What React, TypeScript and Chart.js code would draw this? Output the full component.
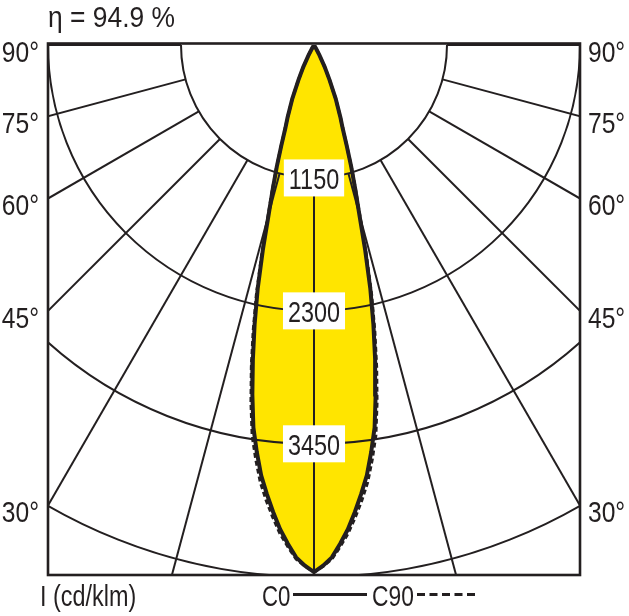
import React, { useEffect, useRef } from 'react';
import { Chart, registerables } from 'chart.js';

Chart.register(...registerables);

// ---- data ----
const curveAngles = [0, 1, 2, 3, 4, 5, 6, 7, 8, 9, 10, 11, 12, 13, 14, 15, 16, 17, 18, 19, 20, 22, 24, 26, 28, 30, 32];
const c0Intensity = [4560, 4505, 4435, 4320, 4200, 4055, 3905, 3750, 3555, 3350, 3070, 2770, 2470, 2165, 1830, 1510, 1290, 1100, 915, 760, 670, 500, 330, 210, 100, 35, 0];
const c90Intensity = [4560, 4510, 4450, 4345, 4235, 4100, 3960, 3810, 3620, 3420, 3140, 2840, 2530, 2215, 1870, 1540, 1310, 1110, 920, 765, 672, 500, 330, 210, 100, 35, 0];
const ringValues = [1150, 2300, 3450, 4600];
const ringLabels = ['1150', '2300', '3450'];
const spokeAngles = [0, 15, 30, 45, 60, 75, 90];
const sideAngles = [90, 75, 60, 45, 30];
const sideLabels = ['90°', '75°', '60°', '45°', '30°'];
const efficiencyText = 'η = 94.9 %';
const unitText = 'I (cd/klm)';
const seriesNames = ['C0', 'C90'];
const xHalfRange = 2300;
const yDepth = 4585;

const INK = '#231f20';
const YELLOW = '#ffe500';
const FONT = '30px "Liberation Sans", Arial, sans-serif';
const SX = 0.78;

function toPolarPoints(values: number[]) {
  const pts: { x: number; y: number }[] = [];
  for (let i = curveAngles.length - 1; i >= 0; i--) {
    const t = (curveAngles[i] * Math.PI) / 180;
    pts.push({ x: -values[i] * Math.sin(t), y: -values[i] * Math.cos(t) });
  }
  for (let i = 1; i < curveAngles.length; i++) {
    const t = (curveAngles[i] * Math.PI) / 180;
    pts.push({ x: values[i] * Math.sin(t), y: -values[i] * Math.cos(t) });
  }
  return pts;
}

function drawText(ctx: CanvasRenderingContext2D, text: string, x: number, y: number, align: CanvasTextAlign, sx = SX) {
  ctx.save();
  ctx.font = FONT;
  ctx.translate(x, y);
  ctx.scale(sx, 1);
  ctx.textAlign = align;
  ctx.textBaseline = 'alphabetic';
  ctx.fillStyle = INK;
  ctx.fillText(text, 0, 0);
  ctx.restore();
}

const polarPlugin = {
  id: 'polarDecor',
  afterDatasetDraw(chart: any, args: any) {
    if (args.index !== 2) return;
    const { ctx, chartArea: a, scales } = chart;
    const px = (v: number) => scales.x.getPixelForValue(v);
    const py = (v: number) => scales.y.getPixelForValue(v);
    const cx = px(0);
    const cy = py(0);
    const unit = px(1) - px(0);
    ctx.save();
    ctx.beginPath();
    ctx.rect(a.left, a.top - 2, a.right - a.left, a.bottom - a.top + 2);
    ctx.clip();
    ctx.strokeStyle = INK;
    ctx.lineWidth = 2;
    ringValues.forEach((v) => {
      ctx.beginPath();
      ctx.arc(cx, cy, v * unit, 0, Math.PI);
      ctx.stroke();
    });
    const r0 = ringValues[0];
    const r1 = ringValues[ringValues.length - 1] * 2;
    spokeAngles.forEach((deg) => {
      const t = (deg * Math.PI) / 180;
      [-1, 1].forEach((s) => {
        if (deg === 0 && s === 1) return;
        ctx.beginPath();
        ctx.moveTo(px(s * r0 * Math.sin(t)), py(-r0 * Math.cos(t)));
        ctx.lineTo(px(s * r1 * Math.sin(t)), py(-r1 * Math.cos(t)));
        ctx.stroke();
      });
    });
    ctx.restore();
    ctx.save();
    ctx.strokeStyle = INK;
    ctx.lineWidth = 2.6;
    ctx.strokeRect(a.left, a.top - 1.5, a.right - a.left, a.bottom - a.top + 1.5);
    ctx.restore();
  },
  afterDatasetsDraw(chart: any) {
    const { ctx, chartArea: a, scales } = chart;
    const px = (v: number) => scales.x.getPixelForValue(v);
    const py = (v: number) => scales.y.getPixelForValue(v);
    const cx = px(0);
    ctx.save();
    ctx.font = FONT;
    ringLabels.forEach((lbl, i) => {
      const y = py(-ringValues[i]);
      const w = ctx.measureText(lbl).width * SX + 10;
      const h = 37;
      ctx.fillStyle = '#ffffff';
      ctx.fillRect(cx - w / 2, y - h / 2, w, h);
      drawText(ctx, lbl, cx, y + 11, 'center');
    });
    sideAngles.forEach((deg, i) => {
      const t = (deg * Math.PI) / 180;
      const hitY = py(-xHalfRange / Math.tan(t));
      drawText(ctx, sideLabels[i], a.left - 9, hitY + 17, 'right', 0.82);
      drawText(ctx, sideLabels[i], a.right + 8, hitY + 17, 'left', 0.82);
    });
    drawText(ctx, efficiencyText, a.left, 27, 'left', 0.88);
    drawText(ctx, unitText, 40, 606, 'left');
    drawText(ctx, seriesNames[0], 262, 606, 'left', 0.74);
    drawText(ctx, seriesNames[1], 372, 606, 'left', 0.76);
    ctx.strokeStyle = INK;
    ctx.lineWidth = 2.8;
    ctx.beginPath();
    ctx.moveTo(293, 594.5);
    ctx.lineTo(367, 594.5);
    ctx.stroke();
    ctx.setLineDash([8, 4.5]);
    ctx.beginPath();
    ctx.moveTo(417, 594.5);
    ctx.lineTo(479, 594.5);
    ctx.stroke();
    ctx.restore();
  },
};

export default function App() {
  const canvasRef = useRef<HTMLCanvasElement | null>(null);

  useEffect(() => {
    document.body.style.margin = '0';
    const canvas = canvasRef.current;
    if (!canvas) return;
    const c0Points = toPolarPoints(c0Intensity);
    const c90Points = toPolarPoints(c90Intensity);
    const chart = new Chart(canvas, {
      type: 'line',
      data: {
        datasets: [
          {
            label: seriesNames[0],
            data: c0Points,
            borderColor: INK,
            borderWidth: 4,
            pointRadius: 0,
            fill: false,
            tension: 0,
            order: 0,
          },
          {
            label: seriesNames[1],
            data: c90Points,
            borderColor: INK,
            borderWidth: 3,
            borderDash: [5, 3],
            pointRadius: 0,
            fill: false,
            tension: 0,
            order: 1,
          },
          {
            label: 'fill',
            data: c0Points,
            borderColor: 'rgba(0,0,0,0)',
            borderWidth: 0,
            backgroundColor: YELLOW,
            pointRadius: 0,
            fill: 'shape',
            tension: 0,
            order: 2,
          },
        ],
      },
      options: {
        animation: false,
        responsive: false,
        devicePixelRatio: 1,
        layout: { padding: { left: 48, top: 45, right: 49, bottom: 41 } },
        scales: {
          x: { type: 'linear', min: -xHalfRange, max: xHalfRange, display: false },
          y: { type: 'linear', min: -yDepth, max: 0, display: false },
        },
        plugins: {
          legend: { display: false },
          tooltip: { enabled: false },
        },
        events: [],
      },
      plugins: [polarPlugin],
    });
    return () => chart.destroy();
  }, []);

  return (
    <div style={{ position: 'absolute', left: 0, top: 0, width: 629, height: 616, background: '#ffffff' }}>
      <canvas ref={canvasRef} width={629} height={616} style={{ width: 629, height: 616, display: 'block' }} />
    </div>
  );
}
